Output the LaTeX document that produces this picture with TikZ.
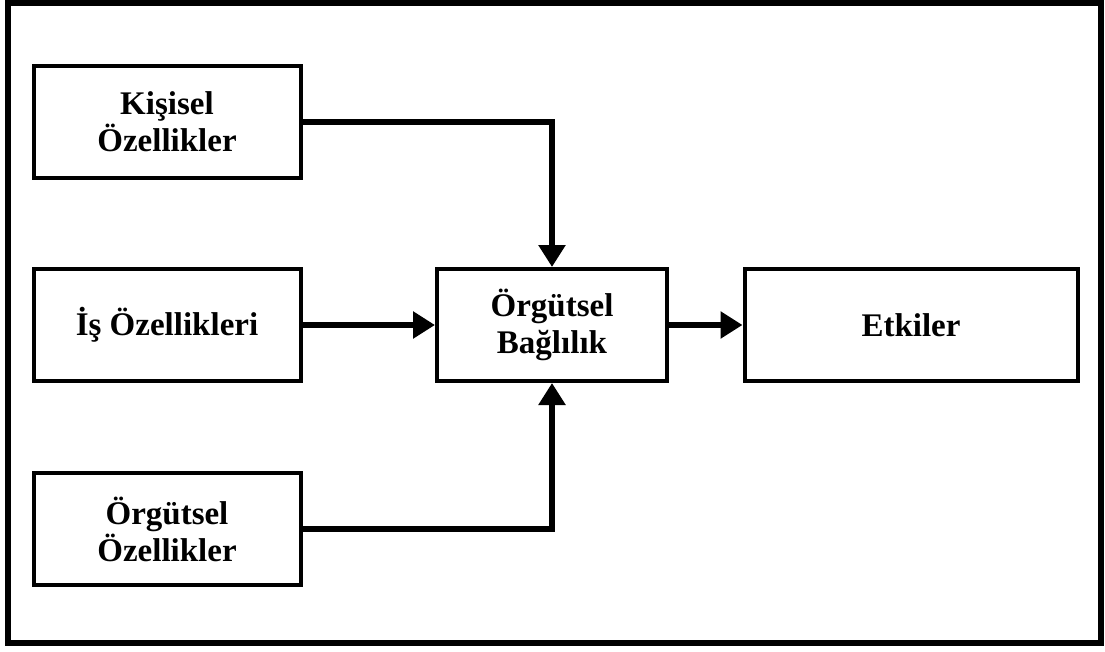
\documentclass[tikz,border=0pt]{standalone}
\usepackage{fontspec}
\setmainfont{Liberation Serif}
\usetikzlibrary{arrows.meta,positioning}

\begin{document}
\begin{tikzpicture}[x=1pt,y=-1pt,line cap=rect,
    every node/.style={font=\fontsize{33}{37}\selectfont\bfseries},
    kutu/.style={draw,line width=4pt,align=center,inner sep=0pt,minimum height=112pt},
    ok/.style={line width=5.5pt,-{Triangle[length=22pt,width=26pt]}}]
  \useasboundingbox (0,0) rectangle (1105,651);
  \draw[line width=6pt] (8,3) rectangle (1101,643);
  \node[kutu,minimum width=267pt] (kisisel) at (167,122) {Kişisel\\Özellikler};
  \node[kutu,minimum width=267pt] (is) at (167,325) {İş Özellikleri};
  \node[kutu,minimum width=267pt] (orgutsel) at (167,529) {Örgütsel\\Özellikler};
  \node[kutu,minimum width=230pt] (baglilik) at (552,325) {Örgütsel\\Bağlılık};
  \node[kutu,minimum width=333pt] (etkiler) at (911,325) {Etkiler};
  \draw[ok] (kisisel.east) -| (baglilik.north);
  \draw[ok] (is) -- (baglilik);
  \draw[ok] (orgutsel.east) -| (baglilik.south);
  \draw[ok] (baglilik) -- (etkiler);
\end{tikzpicture}
\end{document}
